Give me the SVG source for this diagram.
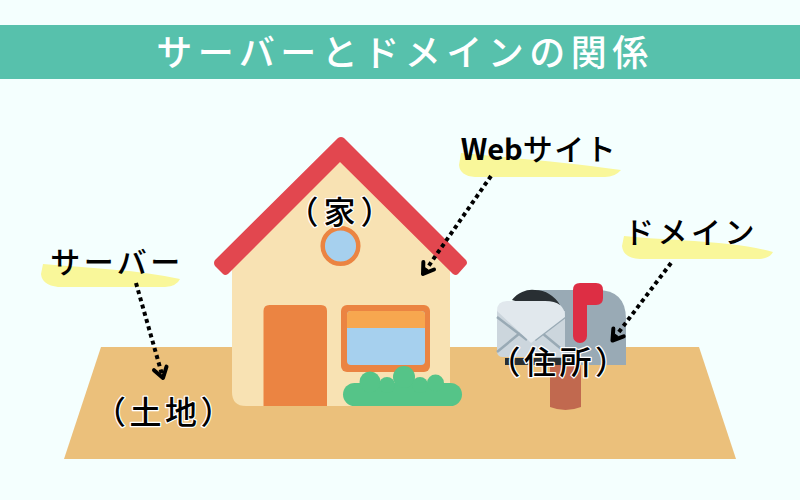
<svg xmlns="http://www.w3.org/2000/svg" width="800" height="500" viewBox="0 0 800 500">
<style>
text{font-family:"Noto Sans CJK JP","Noto Sans",sans-serif;font-weight:500;text-anchor:middle;fill:#000}
.title{font-size:36px;fill:#fff;letter-spacing:5.500px}
.label{font-size:30px;letter-spacing:3.500px}
.tight{letter-spacing:1.500px}
.web{font-size:29px;font-weight:700;letter-spacing:0}
.note{font-size:32px;letter-spacing:3.500px;paint-order:stroke;stroke:#fff;stroke-width:2.500px;stroke-linejoin:round}
.wide{letter-spacing:5px}
.hl{fill:#F9F79A}
.dot{fill:none;stroke:#000;stroke-width:4;stroke-dasharray:4 3.500;marker-end:url(#arrow)}
</style>
<defs>
<marker id="arrow" markerUnits="userSpaceOnUse" markerWidth="24" markerHeight="24" refX="14" refY="12" orient="auto" overflow="visible">
<path d="M4,5.500 L14,12 L4,18.500" fill="none" stroke="#000" stroke-width="4" stroke-linecap="round" stroke-linejoin="round"/>
</marker>
</defs>
<rect width="800" height="500" fill="#F4FFFE"/>
<g id="title">
<rect x="0" y="25" width="800" height="54" fill="#57C1AC"/>
<text class="title" x="405" y="66">サーバーとドメインの関係</text>
</g>
<g id="ground">
<polygon points="101,347 699,347 736,459 64,459" fill="#EBC07B"/>
</g>
<g id="house">
<path d="M232,262 L340,155 L450,262 V406 H246 Q232,406 232,392 Z" fill="#F8E2B3"/>
<path d="M338,138 Q341,136 344,138 L466,260 Q468,263 466,265 L458,274 Q456,276 453,274 L340,162 L228,274 Q225,276 223,274 L215,266 Q213,263 215,260 Z" fill="#E2474F"/>
<circle cx="340.500" cy="246" r="17.800" fill="#A6D0EE" stroke="#EB8442" stroke-width="4.500"/>
<path d="M263.500,406 V311 Q263.500,305 269.500,305 H321 Q327,305 327,311 V406 Z" fill="#EB8442"/>
<rect x="341" y="305" width="89" height="67" rx="6" fill="#EB8442"/>
<rect x="347" y="311" width="78" height="54" rx="4" fill="#A6D0EE"/>
<path d="M347,328 V315 Q347,311 351,311 H421 Q425,311 425,315 V328 Z" fill="#F7A74F"/>
<g id="bush" fill="#55C488">
<rect x="343" y="383" width="119" height="23" rx="11.500"/>
<circle cx="370" cy="382" r="10.500"/>
<circle cx="387" cy="385" r="8"/>
<circle cx="404" cy="377" r="11"/>
<circle cx="420" cy="385" r="8"/>
<circle cx="435.500" cy="383" r="8.500"/>
</g>
</g>
<g id="mailbox">
<path d="M550,365 H581 V407 Q565.500,413 550,407 Z" fill="#C1694F"/>
<path d="M535,290 H597 Q626,290 626,319 V365 H540 Z" fill="#99AAB5"/>
<path d="M512,300 A25,25 0 0 1 535,290 A29,29 0 0 1 560,305 L545,310 Z" fill="#292F33"/>
<rect x="505" y="358" width="70" height="7" fill="#292F33"/>
<path d="M497,311 H565 V357 H503 Q497,357 497,351 Z" fill="#CCD6DD"/>
<path d="M497,317 L527,340 M565,317 L535,340 M497,352 L520,333 M565,352 L542,333" fill="none" stroke="#99AAB5" stroke-width="2.500"/>
<path d="M497,311 Q497,301 507,301 H545 Q565,301 565,317 L531,343 Q531,343 528,340 Z" fill="#E1E8ED"/>
<path d="M573,290 Q573,283 580,283 H596 Q603,283 603,290 V298 Q603,305 596,305 H587 V336 A7,7 0 0 1 573,336 Z" fill="#DD2E44"/>
</g>
<g id="web-label">
<path class="hl" d="M461,153 C510,158 560,161 621,170 Q615,177 605,177 H475 Q460,176 459,165 Z"/>
<text class="label tight" x="539" y="160"><tspan class="web">Web</tspan>サイト</text>
</g>
<g id="domain-label">
<path class="hl" d="M624,236 C670,241 730,240 773,252 Q770,258 760,259 H640 Q623,258 622,246 Z"/>
<text class="label" x="691" y="243">ドメイン</text>
</g>
<g id="server-label">
<path class="hl" d="M43,264 C90,268 140,270 180,279 Q177,286 165,287 H58 Q42,285 41,274 Z"/>
<text class="label" x="117" y="273">サーバー</text>
</g>
<g id="connectors">
<path class="dot" d="M491,176 L423,274"/>
<path class="dot" d="M671,263 L612.500,340.500"/>
<path class="dot" d="M136,283 L163,378"/>
</g>
<g id="notes">
<text class="note wide" x="342" y="224">（家）</text>
<text class="note" x="165" y="424">（土地）</text>
<text class="note" x="559.500" y="374">（住所）</text>
</g>
</svg>
